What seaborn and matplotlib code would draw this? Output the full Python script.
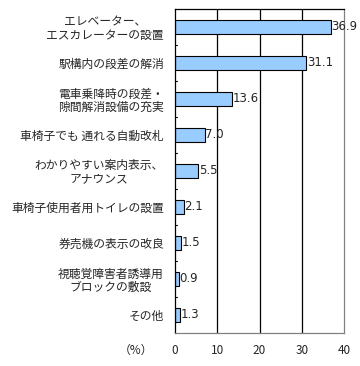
import matplotlib
matplotlib.use("Agg")
import matplotlib.pyplot as plt
import seaborn as sns
import pandas as pd

categories = [
    "エレベーター、\nエスカレーターの設置",
    "駅構内の段差の解消",
    "電車乗降時の段差・\n隙間解消設備の充実",
    "車椅子でも 通れる自動改札",
    "わかりやすい案内表示、\nアナウンス",
    "車椅子使用者用トイレの設置",
    "券売機の表示の改良",
    "視聴覚障害者誘導用\nブロックの敷設",
    "その他",
]
values = [36.9, 31.1, 13.6, 7.0, 5.5, 2.1, 1.5, 0.9, 1.3]
xticks = [0, 10, 20, 30, 40]

sns.set_theme(style="white")
plt.rcParams['font.family'] = ['Noto Sans CJK JP', 'DejaVu Sans']

df = pd.DataFrame({"cat": categories, "val": values})

fig = plt.figure(figsize=(3.6, 3.66), dpi=100)
ax = fig.add_axes([175/360, 1-333/366, (344-175)/360, (333-9)/366])

sns.barplot(data=df, x="val", y="cat", orient="h", color="#99CCFF",
            edgecolor="black", linewidth=0.8, width=0.4, saturation=1, ax=ax)

ax.set_xlim(0, 40)
ax.set_ylim(len(categories)-0.5, -0.5)
ax.set_xticks(xticks)
ax.set_xticklabels([str(t) for t in xticks], fontsize=8.5)
ax.tick_params(axis="x", length=0, pad=8)
ax.tick_params(axis="y", length=0, pad=8, labelsize=8.5)
for lab in ax.get_yticklabels():
    lab.set_horizontalalignment("right")
    lab.set_multialignment("center")
    lab.set_linespacing(1.0)
ax.set_xlabel("")
ax.set_ylabel("")

for x in [10, 20, 30]:
    ax.axvline(x, color="black", linewidth=0.9, zorder=0)

# boundary ticks on left axis
for i in range(len(categories)-1):
    ax.plot([0, 0.5], [i+0.5, i+0.5], color="black", linewidth=0.8, clip_on=False)

for side in ["top", "right", "bottom"]:
    ax.spines[side].set_color("#808080")
    ax.spines[side].set_linewidth(0.9)
ax.spines["top"].set_color("black")
ax.spines["left"].set_color("black")
ax.spines["left"].set_linewidth(0.9)

for i, v in enumerate(values):
    ax.text(v + 0.1, i, f"{v:.1f}", va="center", ha="left", fontsize=8.5,
            family=['DejaVu Sans'])

fig.text(136/360, 1-350/366, "（%）", ha="center", va="center", fontsize=8.5)

fig.savefig("out.png", dpi=100)
